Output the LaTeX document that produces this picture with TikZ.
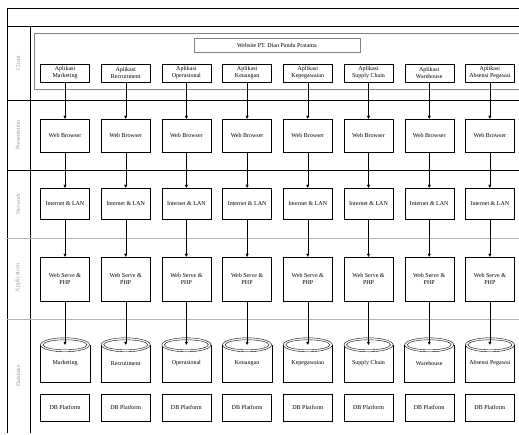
\documentclass[tikz,border=0pt]{standalone}
\usepackage{fontspec}
\setmainfont{Liberation Serif}
\usetikzlibrary{arrows.meta}
\tikzset{
    tierbox/.style={draw, minimum width=49pt, inner sep=1pt, align=center},
    lanelabel/.style={rotate=90, text=gray!80},
    tierarrow/.style={-{Triangle[length=3pt,width=3pt]}}
}
\newcommand{\drawCylinder}[1]{
    \draw (#1.north west) -- (#1.south west) -- (#1.south east) -- (#1.north east);
    \draw[fill=white] (#1.north) ellipse [x radius=24.5pt, y radius=7pt];
    \draw (#1.north) ellipse [x radius=22pt, y radius=5pt];
}

\begin{document}
\begin{tikzpicture}[x=1pt,y=-1pt,font=\fontsize{6}{7}\selectfont]
            \useasboundingbox (0,0) rectangle (519,435);
            \draw (7,433) -- (7,8) -- (519,8);
            \draw (7,26) -- (519,26);
            \draw (30,26) -- (30,433);
            \draw (7,100) -- (519,100);
            \draw (7,170) -- (519,170);
            \draw[gray!60] (7,238) -- (519,238);
            \draw[gray!60] (7,319) -- (519,319);
            \draw[gray] (519,33) -- (34,33) -- (34,89) -- (519,89);

            \node[lanelabel] (client) at (18,63) {Client};
            \node[lanelabel] (presentation) at (18,135) {Presentation};
            \node[lanelabel] (network) at (18,204) {Network};
            \node[lanelabel] (application) at (18,278) {Application};
            \node[lanelabel] (database) at (18,376) {Database};

            \node[draw=gray, minimum width=166pt, minimum height=14pt, inner sep=0pt] (website) at (277,45) {Website PT. Dian Pandu Pratama};

            \foreach \app [count=\n] in {Marketing,Recruitment,Operasional,Keuangan,Kepegawaian,Supply Chain,Warehouse,Absensi Pegawai} {
                \pgfmathsetmacro{\cx}{65+60.7*(\n-1)}
                \node[tierbox, minimum height=18pt] (app\n) at (\cx,73) {Aplikasi\\\app};
                \node[tierbox, minimum height=33pt] (web\n) at (\cx,135.5) {Web Browser};
                \node[tierbox, minimum height=31pt] (net\n) at (\cx,203.5) {Internet \& LAN};
                \node[tierbox, minimum height=44pt] (srv\n) at (\cx,279) {Web Serve \&\\PHP};
                \node[minimum width=49pt, minimum height=37pt, inner sep=0pt] (db\n) at (\cx,363.5) {\app};
                \drawCylinder{db\n}
                \node[tierbox, minimum height=27pt] (plat\n) at (\cx,407.5) {DB Platform};

                \draw[tierarrow] (app\n) -- (web\n);
                \draw[tierarrow] (web\n) -- (net\n);
                \draw[tierarrow] (net\n) -- (srv\n);
                \draw[tierarrow] (srv\n) -- (db\n.north);
            }
\end{tikzpicture}
\end{document}
